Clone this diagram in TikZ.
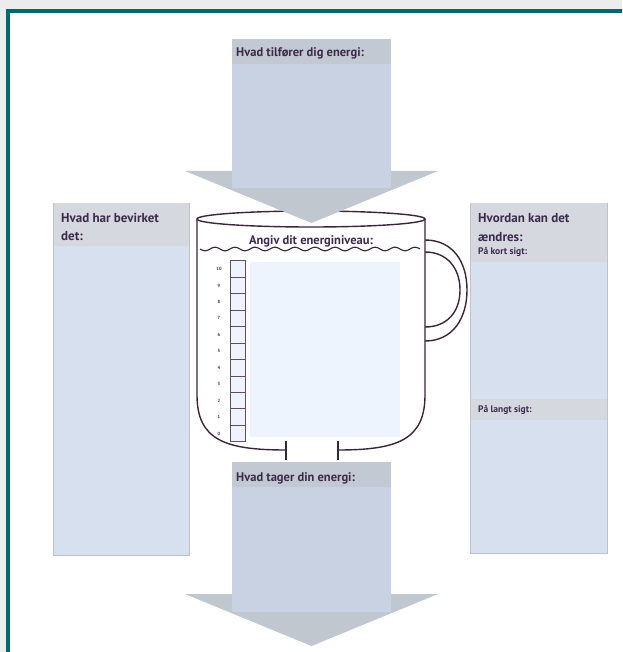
\documentclass[tikz,border=0pt]{standalone}
\usepackage{fontspec}
\setmainfont{PT Sans}
\definecolor{pagegray}{HTML}{ECECEC}
\definecolor{framepetrol}{HTML}{00696E}
\definecolor{panelblue}{HTML}{D7E0EE}
\definecolor{bandgray}{HTML}{D5D9DF}
\definecolor{edgegray}{HTML}{BCC3CC}
\definecolor{arrowblue}{HTML}{C8D2E2}
\definecolor{arrowband}{HTML}{C3C9D2}
\definecolor{tipgray}{HTML}{C0C7CF}
\definecolor{mugline}{HTML}{3A2638}
\definecolor{mugfill}{HTML}{EEF4FE}
\definecolor{inkpurple}{HTML}{3D2A4D}
\begin{document}
\begin{tikzpicture}[x=1pt,y=-1pt]

\tikzstyle{panel}=[rectangle,draw=edgegray,fill=panelblue,line width=0.6pt,inner sep=0pt]
\tikzstyle{band}=[rectangle,fill=bandgray,inner sep=0pt]
\tikzstyle{shaft}=[rectangle,fill=arrowblue,inner sep=0pt]
\tikzstyle{title}=[anchor=west,inner sep=0pt,text=inkpurple,font=\bfseries\fontsize{12.5}{14}\selectfont]
\tikzstyle{heading}=[title,font=\bfseries\fontsize{13}{15}\selectfont]
\tikzstyle{small}=[anchor=west,inner sep=0pt,text=inkpurple,font=\bfseries\fontsize{9.5}{11}\selectfont]
\tikzstyle{level}=[rectangle,draw=mugline!80,fill=mugfill,line width=0.8pt,minimum width=15,minimum height=16.45,inner sep=0pt]
\tikzstyle{mug}=[mugline,line width=1.4pt]

% page and frame
\fill[pagegray] (0,0) rectangle (622,652);
\fill[white] (10,13) rectangle (622,652);
\fill[framepetrol] (6,9) rectangle (622,13);
\fill[framepetrol] (6,9) rectangle (10,652);
\useasboundingbox (0,0) rectangle (622,652);

% left box
\draw (121,379) node [panel,minimum width=136,minimum height=352] (cause) {} ;
\draw (121,224.5) node [band,minimum width=135,minimum height=43] (causehead) {} ;
\draw (61,218) node [heading] (causetitle) {Hvad har bevirket} ;
\draw (61,236) node [heading] (causetitlb) {det:} ;

% right box
\draw (538.5,378) node [panel,minimum width=137,minimum height=350] (change) {} ;
\draw (538.5,232.5) node [band,minimum width=136,minimum height=58] (changehead) {} ;
\draw (538.5,409.5) node [band,minimum width=136,minimum height=21] (longhead) {} ;
\draw (478,218) node [heading] (changetitle) {Hvordan kan det} ;
\draw (478,237) node [heading] (changetitlb) {ændres:} ;
\draw (478,252) node [small] (shortterm) {På kort sigt:} ;
\draw (478,410) node [small] (longterm) {På langt sigt:} ;

% mug
\fill[mugfill] (250,262) rectangle (400,437);
\draw[mug] (197,219) -- (197,395) .. controls (197,440) and (225,450) .. (286,450) ;
\draw[mug] (338,450) .. controls (397,450) and (425,440) .. (425,395) -- (425,219) ;
\draw[mug] (286,441) -- (286,460) ;
\draw[mug] (338,441) -- (338,460) ;
\draw[mug] (311,219) ellipse [x radius=114pt,y radius=8pt] ;
\draw[mug] (425,240) .. controls (453,240) and (467,262) .. (467,290) .. controls (467,318) and (453,341) .. (425,341) ;
\draw[mug] (425,252) .. controls (447,252) and (460,268) .. (460,290) .. controls (460,312) and (447,327) .. (425,327) ;
\draw[mug,line width=1.1pt] plot[domain=200:420,samples=120,smooth] (\x,{249+1.8*sin(18*\x)}) ;
\draw (311,241) node [title,anchor=center] (level) {Angiv dit energiniveau:} ;
\foreach \i in {0,...,10}
{
\draw (237.5,{441.7-(\i+0.5)*16.45}) node [level] (step\i) {} ;
\draw (219,{441.7-(\i+0.5)*16.45}) node [text=inkpurple,font=\bfseries\fontsize{4.5}{5}\selectfont,inner sep=0pt] (num\i) {\i} ;
}

% arrow in
\fill[tipgray] (185,171) -- (438,171) -- (311.5,223) -- cycle ;
\draw (311.5,113.5) node [shaft,minimum width=159,minimum height=149] (gain) {} ;
\draw (311.5,51.5) node [band,fill=arrowband,minimum width=159,minimum height=25] (gainhead) {} ;
\draw (236,53) node [title] (gaintitle) {Hvad tilfører dig energi:} ;

% arrow out
\fill[tipgray] (185,594) -- (438,594) -- (311.5,646) -- cycle ;
\draw (311.5,537) node [shaft,minimum width=159,minimum height=150] (drain) {} ;
\draw (311.5,474.5) node [band,fill=arrowband,minimum width=159,minimum height=25] (drainhead) {} ;
\draw (236,478) node [title] (draintitle) {Hvad tager din energi:} ;

\end{tikzpicture}
\end{document}
